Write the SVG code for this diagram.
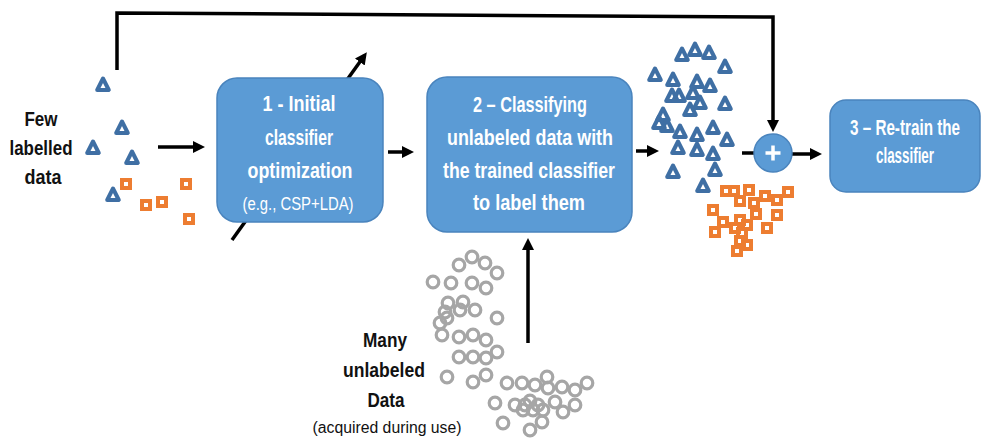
<svg xmlns="http://www.w3.org/2000/svg" width="985" height="438" viewBox="0 0 985 438">
  <style>
    .box { fill: #5b9bd5; stroke: #4a84bd; stroke-width: 1.5; }
    .bt { font-family: "Liberation Sans", Arial, sans-serif; font-weight: bold; font-size: 22px; fill: #ffffff; text-anchor: middle; }
    .bs { font-family: "Liberation Sans", Arial, sans-serif; font-size: 18px; fill: #ffffff; text-anchor: middle; }
    .lt { font-family: "Liberation Sans", Arial, sans-serif; font-weight: bold; font-size: 20px; fill: #111111; text-anchor: middle; }
    .ls { font-family: "Liberation Sans", Arial, sans-serif; font-size: 16px; fill: #111111; text-anchor: middle; }
    .wire { fill: none; stroke: #000000; stroke-width: 3.5; }
    .tri { fill: none; stroke: #3f6fa4; stroke-width: 4; stroke-linejoin: round; }
    .sq { fill: none; stroke: #ed7d31; stroke-width: 4; }
    .ring { fill: none; stroke: #a6a6a6; stroke-width: 3.2; }
  </style>
  <defs>
    <marker id="ah" markerUnits="userSpaceOnUse" markerWidth="12" markerHeight="12" refX="8" refY="6" orient="auto">
      <path d="M0,0 L12,6 L0,12 z" fill="#000000"/>
    </marker>
    <polygon id="t" class="tri" points="0,-6.5 5.8,5 -5.8,5"/>
    <rect id="s" class="sq" x="-4" y="-4" width="8" height="8"/>
    <circle id="c" class="ring" r="5.8"/>
  </defs>

  <!-- connectors -->
  <g id="connectors">
    <path class="wire" d="M117,70 V13 L773,17 V128" marker-end="url(#ah)"/>
    <line class="wire" x1="232" y1="240" x2="364.5" y2="55.5" marker-end="url(#ah)"/>
    <line class="wire" x1="158" y1="147" x2="201" y2="147" marker-end="url(#ah)"/>
    <line class="wire" x1="388" y1="152" x2="410" y2="152" marker-end="url(#ah)"/>
    <line class="wire" x1="636" y1="151" x2="655" y2="151" marker-end="url(#ah)"/>
    <line class="wire" x1="742" y1="153" x2="758" y2="153"/>
    <line class="wire" x1="790" y1="154" x2="818" y2="154" marker-end="url(#ah)"/>
    <line class="wire" x1="528" y1="343" x2="528" y2="242" marker-end="url(#ah)"/>
  </g>

  <!-- few labelled samples -->
  <g id="labelled-samples">
    <use href="#t" x="103" y="85"/>
    <use href="#t" x="122" y="128"/>
    <use href="#t" x="93" y="148"/>
    <use href="#t" x="132" y="158"/>
    <use href="#t" x="113" y="195"/>
    <use href="#s" x="126" y="184"/>
    <use href="#s" x="146" y="205"/>
    <use href="#s" x="162" y="202"/>
    <use href="#s" x="186" y="184"/>
    <use href="#s" x="189" y="219"/>
  </g>
  <g id="labelled-caption">
    <text class="lt" x="41" y="126" textLength="33" lengthAdjust="spacingAndGlyphs">Few</text>
    <text class="lt" x="41" y="155" textLength="63" lengthAdjust="spacingAndGlyphs">labelled</text>
    <text class="lt" x="43" y="184" textLength="37" lengthAdjust="spacingAndGlyphs">data</text>
  </g>

  <!-- step 1 -->
  <g id="step1">
    <rect class="box" x="217" y="78" width="166" height="144" rx="20"/>
    <text class="bt" x="299" y="111" textLength="73" lengthAdjust="spacingAndGlyphs">1 - Initial</text>
    <text class="bt" x="299" y="145" textLength="68" lengthAdjust="spacingAndGlyphs">classifier</text>
    <text class="bt" x="300" y="178" textLength="105" lengthAdjust="spacingAndGlyphs">optimization</text>
    <text class="bs" x="298" y="210" textLength="111" lengthAdjust="spacingAndGlyphs">(e.g., CSP+LDA)</text>
  </g>

  <!-- step 2 -->
  <g id="step2">
    <rect class="box" x="427" y="77" width="205" height="155" rx="20"/>
    <text class="bt" x="530" y="112" textLength="114" lengthAdjust="spacingAndGlyphs">2 – Classifying</text>
    <text class="bt" x="530" y="145" textLength="166" lengthAdjust="spacingAndGlyphs">unlabeled data with</text>
    <text class="bt" x="529" y="178" textLength="172" lengthAdjust="spacingAndGlyphs">the trained classifier</text>
    <text class="bt" x="529" y="210" textLength="112" lengthAdjust="spacingAndGlyphs">to label them</text>
  </g>

  <!-- newly labelled samples -->
  <g id="classified-samples">
    <use href="#t" x="682" y="55"/>
    <use href="#t" x="695" y="50"/>
    <use href="#t" x="709" y="53"/>
    <use href="#t" x="725" y="67"/>
    <use href="#t" x="655" y="75"/>
    <use href="#t" x="673" y="80"/>
    <use href="#t" x="697" y="82"/>
    <use href="#t" x="710" y="86"/>
    <use href="#t" x="672" y="96"/>
    <use href="#t" x="679" y="96"/>
    <use href="#t" x="693" y="93"/>
    <use href="#t" x="700" y="103"/>
    <use href="#t" x="690" y="110"/>
    <use href="#t" x="725" y="104"/>
    <use href="#t" x="663" y="115"/>
    <use href="#t" x="659" y="123"/>
    <use href="#t" x="667" y="126"/>
    <use href="#t" x="680" y="132"/>
    <use href="#t" x="697" y="135"/>
    <use href="#t" x="713" y="128"/>
    <use href="#t" x="727" y="140"/>
    <use href="#t" x="678" y="148"/>
    <use href="#t" x="697" y="150"/>
    <use href="#t" x="713" y="154"/>
    <use href="#t" x="715" y="170"/>
    <use href="#t" x="673" y="172"/>
    <use href="#t" x="703" y="186"/>
    <use href="#s" x="726" y="191"/>
    <use href="#s" x="734" y="191"/>
    <use href="#s" x="749" y="190"/>
    <use href="#s" x="740" y="201"/>
    <use href="#s" x="754" y="203"/>
    <use href="#s" x="765" y="196"/>
    <use href="#s" x="777" y="200"/>
    <use href="#s" x="788" y="192"/>
    <use href="#s" x="713" y="210"/>
    <use href="#s" x="723" y="222"/>
    <use href="#s" x="740" y="220"/>
    <use href="#s" x="756" y="214"/>
    <use href="#s" x="777" y="215"/>
    <use href="#s" x="715" y="232"/>
    <use href="#s" x="735" y="228"/>
    <use href="#s" x="742" y="233"/>
    <use href="#s" x="747" y="225"/>
    <use href="#s" x="767" y="228"/>
    <use href="#s" x="740" y="241"/>
    <use href="#s" x="747" y="245"/>
    <use href="#s" x="737" y="251"/>
  </g>

  <!-- merge -->
  <g id="merge">
    <circle cx="773" cy="153" r="19" fill="#5b9bd5" stroke="#4a84bd" stroke-width="1.5"/>
    <path d="M773,145.5 V160.5 M765.5,153 H780.5" stroke="#ffffff" stroke-width="3.5" fill="none"/>
  </g>

  <!-- step 3 -->
  <g id="step3">
    <rect class="box" x="830" y="100" width="150" height="92" rx="16"/>
    <text class="bt" x="905" y="135" font-size="20" textLength="110" lengthAdjust="spacingAndGlyphs">3 – Re-train the</text>
    <text class="bt" x="905" y="163" font-size="20" textLength="58" lengthAdjust="spacingAndGlyphs">classifier</text>
  </g>

  <!-- unlabelled samples -->
  <g id="unlabelled-samples">
    <use href="#c" x="472" y="257"/>
    <use href="#c" x="459" y="265"/>
    <use href="#c" x="485" y="263"/>
    <use href="#c" x="497" y="273"/>
    <use href="#c" x="433" y="282"/>
    <use href="#c" x="451" y="283"/>
    <use href="#c" x="472" y="283"/>
    <use href="#c" x="486" y="288"/>
    <use href="#c" x="448" y="303"/>
    <use href="#c" x="463" y="302"/>
    <use href="#c" x="475" y="310"/>
    <use href="#c" x="460" y="310"/>
    <use href="#c" x="445" y="312"/>
    <use href="#c" x="440" y="323"/>
    <use href="#c" x="447" y="318"/>
    <use href="#c" x="497" y="318"/>
    <use href="#c" x="442" y="335"/>
    <use href="#c" x="459" y="337"/>
    <use href="#c" x="473" y="335"/>
    <use href="#c" x="486" y="340"/>
    <use href="#c" x="497" y="352"/>
    <use href="#c" x="459" y="357"/>
    <use href="#c" x="473" y="357"/>
    <use href="#c" x="486" y="358"/>
    <use href="#c" x="447" y="377"/>
    <use href="#c" x="473" y="382"/>
    <use href="#c" x="486" y="375"/>
    <use href="#c" x="507" y="383"/>
    <use href="#c" x="522" y="383"/>
    <use href="#c" x="535" y="385"/>
    <use href="#c" x="547" y="377"/>
    <use href="#c" x="548" y="388"/>
    <use href="#c" x="562" y="387"/>
    <use href="#c" x="575" y="390"/>
    <use href="#c" x="587" y="383"/>
    <use href="#c" x="495" y="403"/>
    <use href="#c" x="515" y="405"/>
    <use href="#c" x="525" y="405"/>
    <use href="#c" x="530" y="401"/>
    <use href="#c" x="538" y="405"/>
    <use href="#c" x="543" y="410"/>
    <use href="#c" x="555" y="402"/>
    <use href="#c" x="563" y="412"/>
    <use href="#c" x="575" y="405"/>
    <use href="#c" x="523" y="410"/>
    <use href="#c" x="533" y="410"/>
    <use href="#c" x="503" y="423"/>
    <use href="#c" x="530" y="430"/>
    <use href="#c" x="542" y="422"/>
  </g>
  <g id="unlabelled-caption">
    <text class="lt" x="385" y="347" textLength="44" lengthAdjust="spacingAndGlyphs">Many</text>
    <text class="lt" x="384" y="377" textLength="82" lengthAdjust="spacingAndGlyphs">unlabeled</text>
    <text class="lt" x="386" y="407" textLength="37" lengthAdjust="spacingAndGlyphs">Data</text>
    <text class="ls" x="387" y="433" textLength="149" lengthAdjust="spacingAndGlyphs">(acquired during use)</text>
  </g>
</svg>
